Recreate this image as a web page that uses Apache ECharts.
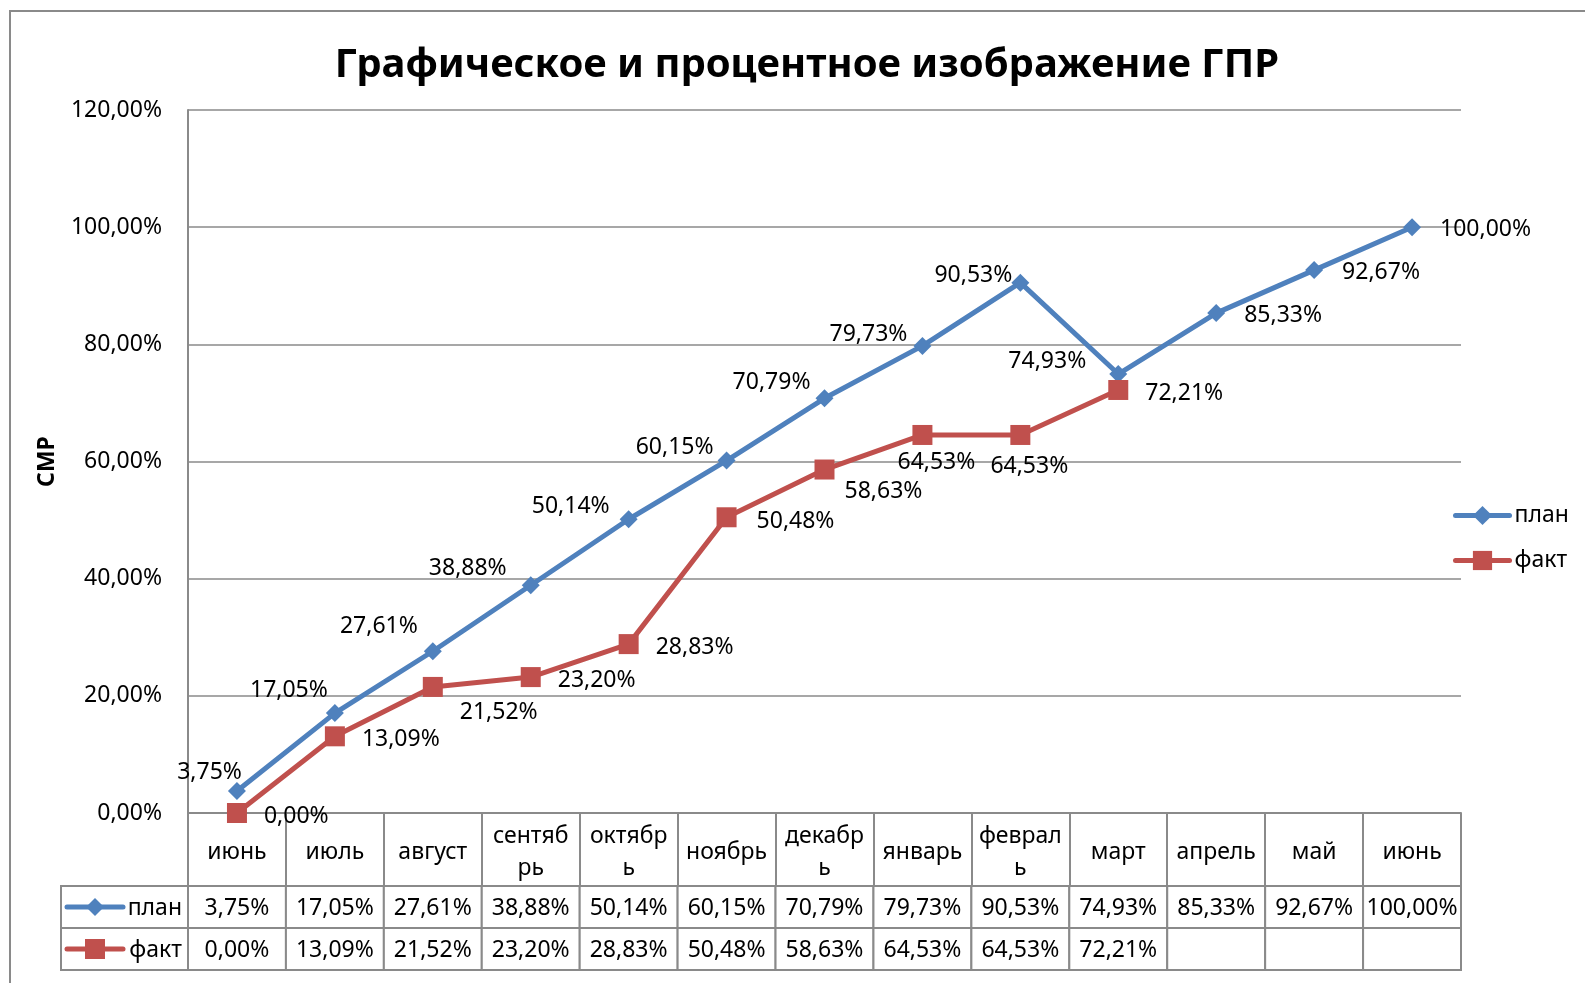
<!DOCTYPE html>
<html>
<head>
<meta charset="utf-8">
<title>Графическое и процентное изображение ГПР</title>
<script src="https://cdn.jsdelivr.net/npm/echarts@6/dist/echarts.min.js"></script>
<style>
    html, body { margin: 0; padding: 0; background: #fff; overflow: hidden; }
    #chart { width: 1585px; height: 983px; }
</style>
</head>
<body>
<div id="chart"></div>
<script>
    // месяцы
    var months = ['июнь', 'июль', 'август', 'сентябрь', 'октябрь', 'ноябрь', 'декабрь', 'январь', 'февраль', 'март', 'апрель', 'май', 'июнь'];
    // план, %
    var planValues = [3.75, 17.05, 27.61, 38.88, 50.14, 60.15, 70.79, 79.73, 90.53, 74.93, 85.33, 92.67, 100.00];
    // факт, %
    var factValues = [0.00, 13.09, 21.52, 23.20, 28.83, 50.48, 58.63, 64.53, 64.53, 72.21];
    // шкала СМР
    var yTicks = [0, 20, 40, 60, 80, 100, 120];

    var FONT = 'Noto Sans';
    var GRAY = '#8a8a8a';
    var BLUE = '#4f81bd';
    var RED = '#c0504d';
    var HEADER_H = 73;
    var ROW_H = 42;
    var LABEL_W = 127;

    // сдвиги подписей плана (как в исходнике подписи стоят слева сверху)
    var planLabelNudge = [[14, -19], [2, -23], [-6, -25], [-15, -17], [-10, -13], [-4, -13], [-5, -16], [-6, -11], [1, -7], [-23, -13]];

    function pct(v) {
        return v.toFixed(2).replace('.', ',') + '%';
    }

    function planLabel(i) {
        if (i >= planLabelNudge.length) return { position: 'right', distance: 19, offset: [0, 2] };
        return { position: 'left', distance: 0, offset: planLabelNudge[i] };
    }
    function factLabel(i) {
        if (i === 2) return { position: 'right', distance: 17, offset: [0, 26] };
        if (i === 5) return { position: 'right', distance: 20, offset: [0, 4] };
        if (i === 6) return { position: 'right', distance: 10, offset: [0, 22] };
        if (i === 7) return { position: 'bottom', distance: 6, offset: [14, 0] };
        if (i === 8) return { position: 'bottom', distance: 10, offset: [9, 0] };
        return { position: 'right', distance: 17, offset: [0, 3] };
    }

    function cellRect(x, y, w, h) {
        return { type: 'rect', shape: { x: x, y: y, width: w, height: h }, style: { fill: '#fff', stroke: GRAY, lineWidth: 2 } };
    }
    function cellText(x, y, text, align) {
        return { type: 'text', style: { text: text, x: x, y: y, align: align || 'center', verticalAlign: 'middle', fontSize: 23, fontFamily: FONT, fill: '#000' } };
    }
    function legendKey(x, y, color, symbol) {
        var parts = [{ type: 'line', shape: { x1: x, y1: y, x2: x + 56, y2: y }, style: { stroke: color, lineWidth: 5, lineCap: 'round' } }];
        var cx = x + 28;
        if (symbol === 'diamond') {
            parts.push({ type: 'polygon', shape: { points: [[cx, y - 9], [cx + 9, y], [cx, y + 9], [cx - 9, y]] }, style: { fill: color } });
        } else {
            parts.push({ type: 'rect', shape: { x: cx - 10, y: y - 10, width: 20, height: 20 }, style: { fill: color } });
        }
        return parts;
    }

    // таблица данных под графиком
    function renderTable(params, api) {
        var i = api.value(0);
        var base = api.coord([i, 0]);
        var w = api.size([1, 0])[0];
        var x = base[0] - w / 2;
        var yPlan = base[1] + HEADER_H;
        var yFact = yPlan + ROW_H;
        var children = [
            cellRect(x, yPlan, w, ROW_H),
            cellText(base[0], yPlan + ROW_H / 2 + 1, pct(planValues[i])),
            cellRect(x, yFact, w, ROW_H),
            cellText(base[0], yFact + ROW_H / 2 + 1, i < factValues.length ? pct(factValues[i]) : '')
        ];
        if (i === 0) {
            var lx = x - LABEL_W;
            children.push(cellRect(lx, yPlan, LABEL_W, ROW_H));
            children.push(cellRect(lx, yFact, LABEL_W, ROW_H));
            children = children.concat(legendKey(lx + 6, yPlan + ROW_H / 2, BLUE, 'diamond'));
            children = children.concat(legendKey(lx + 6, yFact + ROW_H / 2, RED, 'square'));
            children.push(cellText(x - 6, yPlan + ROW_H / 2 + 1, 'план', 'right'));
            children.push(cellText(x - 6, yFact + ROW_H / 2 + 1, 'факт', 'right'));
        }
        return { type: 'group', children: children };
    }

    var chart = echarts.init(document.getElementById('chart'));
    var option = {
        backgroundColor: '#fff',
        animation: false,
        graphic: [{
            type: 'rect', x: 10, y: 11, silent: true, z: -10,
            shape: { width: 1700, height: 1100 },
            style: { fill: 'none', stroke: GRAY, lineWidth: 2 }
        }],
        title: {
            text: 'Графическое и процентное изображение ГПР',
            left: 802,
            textAlign: 'center',
            top: 41,
            textStyle: { fontFamily: FONT, fontWeight: 'bold', fontSize: 40, color: '#000' }
        },
        legend: {
            data: ['план', 'факт'],
            orient: 'vertical',
            left: 1453,
            top: 504,
            padding: 0,
            itemWidth: 54,
            itemHeight: 24,
            itemGap: 22,
            lineStyle: { width: 5, cap: 'round' },
            textStyle: { fontFamily: FONT, fontSize: 23, color: '#000' }
        },
        grid: { left: 188, right: 124, top: 110, bottom: 170 },
        xAxis: {
            type: 'category',
            data: months,
            boundaryGap: true,
            axisLine: { lineStyle: { color: GRAY, width: 2 } },
            axisTick: { show: true, interval: 0, length: HEADER_H, lineStyle: { color: GRAY, width: 2 } },
            axisLabel: {
                interval: 0,
                margin: 39,
                verticalAlign: 'middle',
                lineHeight: 32,
                fontFamily: FONT,
                fontSize: 23,
                color: '#000',
                formatter: function (v) {
                    return v.length > 6 ? v.slice(0, 6) + '\n' + v.slice(6) : v;
                }
            }
        },
        yAxis: {
            type: 'value',
            min: yTicks[0],
            max: yTicks[yTicks.length - 1],
            interval: yTicks[1] - yTicks[0],
            name: 'СМР',
            nameLocation: 'middle',
            nameGap: 129,
            nameRotate: 90,
            nameTextStyle: { fontFamily: FONT, fontWeight: 'bold', fontSize: 23, color: '#000' },
            axisLine: { show: true, lineStyle: { color: GRAY, width: 2 } },
            axisTick: { show: false },
            splitLine: { lineStyle: { color: GRAY, width: 1.5 } },
            axisLabel: {
                margin: 26,
                fontFamily: FONT,
                fontSize: 23,
                color: '#000',
                formatter: function (v) { return pct(v); }
            }
        },
        series: [
            {
                name: 'план',
                type: 'line',
                z: 3,
                symbol: 'diamond',
                symbolSize: 18,
                color: BLUE,
                lineStyle: { color: BLUE, width: 5 },
                itemStyle: { color: BLUE },
                label: {
                    show: true,
                    fontFamily: FONT,
                    fontSize: 23,
                    color: '#000',
                    formatter: function (p) { return pct(p.value); }
                },
                data: planValues.map(function (v, i) { return { value: v, label: planLabel(i) }; })
            },
            {
                name: 'факт',
                type: 'line',
                z: 4,
                symbol: 'rect',
                symbolSize: 20,
                color: RED,
                lineStyle: { color: RED, width: 5 },
                itemStyle: { color: RED },
                label: {
                    show: true,
                    fontFamily: FONT,
                    fontSize: 23,
                    color: '#000',
                    formatter: function (p) { return pct(p.value); }
                },
                data: factValues.map(function (v, i) { return { value: v, label: factLabel(i) }; })
            },
            {
                name: 'таблица',
                type: 'custom',
                clip: false,
                silent: true,
                z: 1,
                encode: { x: 0, y: 1 },
                renderItem: renderTable,
                data: months.map(function (m, i) { return [i, 0]; })
            }
        ]
    };
    chart.setOption(option);
</script>
</body>
</html>
